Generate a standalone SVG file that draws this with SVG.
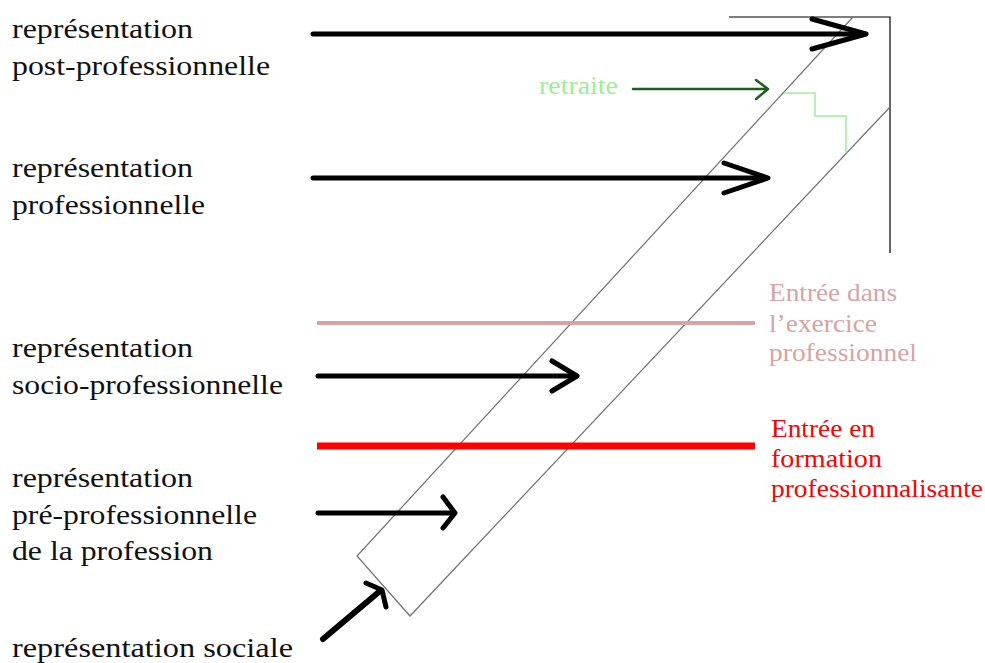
<svg xmlns="http://www.w3.org/2000/svg" width="985" height="663" viewBox="0 0 985 663">
<style>
.lbl{font-family:'Liberation Serif','DejaVu Serif',serif;font-size:28px;fill:#111}
.rt{font-family:'Liberation Serif','DejaVu Serif',serif;font-size:25px}
.arr{fill:none;stroke:#000;stroke-width:5;stroke-linecap:round;stroke-linejoin:round}
.band{fill:none;stroke:#707070;stroke-width:1.2}
</style>
<rect width="985" height="663" fill="#fff"/>
<g id="frame">
<polyline points="729,17 890,17 890,253" fill="none" stroke="#000" stroke-width="1.2"/>
<polyline class="band" points="853,17 357,556 410,616 890,107"/>
<polyline points="784,93 815,93 815,116 846,116 846,153" fill="none" stroke="#9af09a" stroke-width="1.5"/>
</g>
<g id="thresholds">
<line x1="317" y1="323" x2="755" y2="323" stroke="#d9a3a3" stroke-width="4"/>
<line x1="317" y1="446" x2="755" y2="446" stroke="#ff0000" stroke-width="7"/>
</g>
<g id="connectors">
<line class="arr" x1="313" y1="34" x2="863" y2="34"/>
<polyline class="arr" points="812,19 866,34 812,49"/>
<line class="arr" x1="313" y1="178" x2="765" y2="178"/>
<polyline class="arr" points="724,163 768,178 724,193"/>
<line class="arr" x1="318" y1="376" x2="574" y2="376"/>
<polyline class="arr" points="552,361 577,376 552,391"/>
<line class="arr" x1="318" y1="513" x2="452" y2="513"/>
<polyline class="arr" points="443,497 455,513 443,528"/>
<line class="arr" style="stroke-width:6" x1="323" y1="639" x2="380" y2="591"/>
<polyline class="arr" points="366,583 382,590 386,607"/>
<line x1="633" y1="89" x2="766" y2="89" stroke="#1d5e1d" stroke-width="2.5" stroke-linecap="round"/>
<polyline points="756,80 768,89 756,99" fill="none" stroke="#1d5e1d" stroke-width="2.5" stroke-linecap="round" stroke-linejoin="round"/>
</g>
<g id="n-post">
<text class="lbl" x="12" y="38" textLength="181" lengthAdjust="spacingAndGlyphs">représentation</text>
<text class="lbl" x="12" y="75" textLength="258" lengthAdjust="spacingAndGlyphs">post-professionnelle</text>
</g>
<g id="n-pro">
<text class="lbl" x="12" y="177" textLength="181" lengthAdjust="spacingAndGlyphs">représentation</text>
<text class="lbl" x="12" y="214" textLength="193" lengthAdjust="spacingAndGlyphs">professionnelle</text>
</g>
<g id="n-socio">
<text class="lbl" x="12" y="357" textLength="181" lengthAdjust="spacingAndGlyphs">représentation</text>
<text class="lbl" x="12" y="394" textLength="271" lengthAdjust="spacingAndGlyphs">socio-professionnelle</text>
</g>
<g id="n-pre">
<text class="lbl" x="12" y="487" textLength="181" lengthAdjust="spacingAndGlyphs">représentation</text>
<text class="lbl" x="12" y="524" textLength="245" lengthAdjust="spacingAndGlyphs">pré-professionnelle</text>
<text class="lbl" x="12" y="560" textLength="201" lengthAdjust="spacingAndGlyphs">de la profession</text>
</g>
<g id="n-sociale">
<text class="lbl" x="12" y="657" textLength="281" lengthAdjust="spacingAndGlyphs">représentation sociale</text>
</g>
<g id="n-retraite">
<text class="rt" x="539" y="94" fill="#99ee99" textLength="79" lengthAdjust="spacingAndGlyphs">retraite</text>
</g>
<g id="n-exercice">
<text class="rt" x="769" y="301" fill="#d9a3a3" textLength="128" lengthAdjust="spacingAndGlyphs">Entrée dans</text>
<text class="rt" x="769" y="332" fill="#d9a3a3" textLength="108" lengthAdjust="spacingAndGlyphs">l’exercice</text>
<text class="rt" x="769" y="361" fill="#d9a3a3" textLength="148" lengthAdjust="spacingAndGlyphs">professionnel</text>
</g>
<g id="n-formation">
<text class="rt" x="771" y="437" fill="#ff0000" textLength="104" lengthAdjust="spacingAndGlyphs">Entrée en</text>
<text class="rt" x="771" y="467" fill="#ff0000" textLength="111" lengthAdjust="spacingAndGlyphs">formation</text>
<text class="rt" x="771" y="497" fill="#ff0000" textLength="212" lengthAdjust="spacingAndGlyphs">professionnalisante</text>
</g>
</svg>
